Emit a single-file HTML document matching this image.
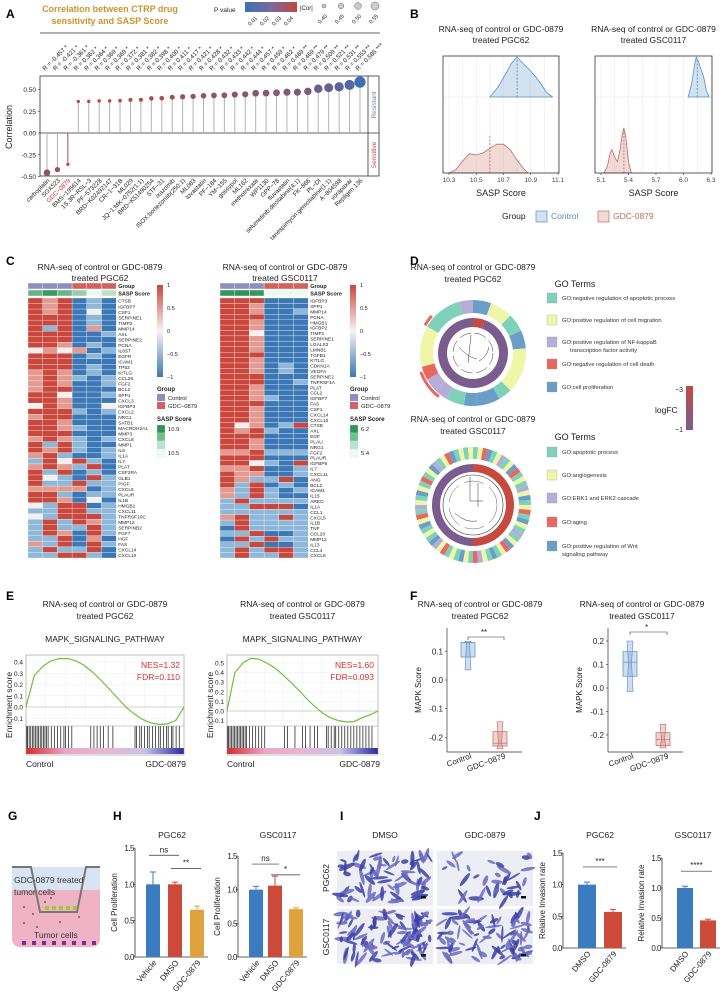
<!DOCTYPE html>
<html><head><meta charset="utf-8"><style>
body{margin:0;background:#fff}
svg{display:block;font-family:"Liberation Sans",sans-serif}
</style></head><body>
<svg id="fig" width="728" height="999" viewBox="0 0 728 999" xmlns="http://www.w3.org/2000/svg">
<g id="A"></g>
<g id="B"></g>
<g id="C"></g>
<g id="D"></g>
<g id="E"></g>
<g id="F"></g>
<g id="G"></g>
<g id="H"></g>
<g id="I"></g>
<g id="J"></g>
</svg>
<script>
// ---------- DATA ----------
const drugs=["carboplatin","SGX523","GDC−0879","BMS−195614","1S,3R−RSL−3","PF−573228","BRD−K02492147","CR−1−31B","ML029","JQ−1:MK−0752(1:1)","BRD−K51490254","STF−31","ixazomib","ISOX:bortezomib(250:1)","ML083","lovastatin","PF−184","YM−155","gossypol","ML162","methotrexate","WP1130","GPP−78","fluvastatin","selumetinib:decitabine(4:1)","FK−866","PL−DI","tanespimycin:gemcitabine(1:1)","A−804598","vorapaxar","Repligen 136"];
const corrR=[-0.457,-0.421,-0.361,0.362,0.364,0.369,0.369,0.372,0.381,0.382,0.398,0.400,0.411,0.417,0.421,0.428,0.432,0.433,0.442,0.444,0.457,0.459,0.462,0.469,0.469,0.479,0.509,0.521,0.531,0.553,0.585];
const corrStars=["*","*","*","*","*","*","*","*","*","*","*","*","*","*","*","*","*","*","*","*","*","*","*","**","**","**","**","**","**","**","***"];
const aTicks=[0.5,0.25,0,-0.25,-0.5];

const bLeftX=[10.3,10.35,10.4,10.45,10.5,10.55,10.6,10.65,10.7,10.75,10.8,10.85,10.88];
const bLeftGdc=[0,0.08,0.3,0.48,0.45,0.5,0.62,0.72,0.72,0.58,0.32,0.1,0];
const bLeftCtrlX=[10.6,10.66,10.72,10.76,10.8,10.84,10.9,10.96,11.02,11.06];
const bLeftCtrl=[0,0.25,0.6,0.85,1,0.85,0.65,0.4,0.1,0];
const bRightCtrlX=[6.05,6.09,6.12,6.14,6.16,6.19,6.22,6.25,6.28];
const bRightCtrl=[0,0.35,0.8,1,0.9,0.7,0.5,0.15,0];
const bRightGdcX=[5.13,5.17,5.2,5.22,5.25,5.28,5.31,5.33,5.35,5.37,5.4,5.43];
const bRightGdc=[0,0.15,0.45,0.52,0.35,0.25,0.55,0.85,1,0.8,0.25,0];

const heatGenesL=["CTSB","IGFBP7","CSF1","SERPINE1","TIMP2","MMP14","AXL","SERPINE2","PCNA","IL6ST","EGFR","ICAM1","TP53","KITLG","CCL26","FGF2","BCL2","SPP1","CXCL3","IGFBP3","CXCL2","NRG1","SATB1","MACROH2A1","MMP3","CXCL8","MMP1","IL6","IL1A","IL7","PLAT","CSF2RA","GLB1","PIGF","CXCL5","PLAUR","IL1B","HMGB1","CXCL11","TNFRSF10C","MMP12","SERPINB2","FGF7","HGF","FAS","CXCL14","CXCL10"];
const heatValsL=["RrRBbB","RrRBbB","RrRBwB","RRRBbB","RRRBbB","RbRBrB","RRRBBb","RRRBBB","RRrBbB","wrwrBb","RRRBbB","RRRBBB","RRRBbB","rRrBbB","rRrbBb","rRrBBb","rRRBBB","RRwBBb","RRrBBB","wRrBBw","RRRbBb","rRRBBB","RRrBBB","RRrbBB","RRRBBB","rRrbBb","RbRbBB","RrRbBb","rRbBBb","bRwRbB","rRrbRB","RbRBbB","RwbBRb","RbbRbb","rrrrBb","RRbBbb","RRrBwB","wbRRBb","bbRRbb","wbRRRb","bRbRrb","bRbbRb","bRrBRb","bbRBrB","rbRBRb","bRbbRB","bbRRbB"];
const heatGenesR=["IGFBP3","SPP1","MMP14","PCNA","HMGB1","IGFBP2","TIMP1","SERPINE1","LGALS3","LMNB1","TGFB1","KITLG","CDKN1A","VEGFA","SERPINE2","TNFRSF1A","PLAT","CCL2","IGFBP7","FAS","CSF1","CXCL14","CXCL10","CTSB","AXL","EGF","PLAU","NRG1","FGF2","PLAUR","IGFBP6","IL7","CXCL11","ANG","BCL2","ICAM1","IL15","AREG","IL1A","CCL1","CXCL5","IL1B","TNF","CCL20","MMP12","IL13","CCL4","CXCL6"];
const heatValsR=["RRRBBB","RRrBBB","RRrBBb","RRRBBB","RRrBBB","RRrBBB","RRwBBB","RRrBBB","RRrBBB","RRrBBB","RRRBBB","RRrBBB","RRrBbB","RRrBbB","RRRBBB","RRRBBb","RRrBBB","RRrBBB","RRrbBB","RRRBBB","RRrBBB","RRrBBB","RRrBBB","RwrBbR","RrRbBB","RRRBBB","RRrBBB","RRrBBB","rrRbbb","RRRBBB","RRwbBR","rrRBBb","RrrBBb","RrbbRB","RbRBbB","rbRbBb","rbRbBB","bRbbbb","bbRRRB","bbbbbb","rRbbRb","bRbbbb","BRbbbb","bbRBBb","BRbRbb","bbRBBb","bRbRRb","bRbbRb"];
const sasL=[10.78,10.88,10.77,10.68,10.5,10.6];
const sasR=[6.18,6.2,6.17,5.38,5.4,5.36];

const goUpperSeg=["B","Y","G","B","Y","G","B","B","G","P","P","R","Y","G","G","P"];
const goUpperSpan=[20,25,20,20,50,15,25,15,20,15,15,15,45,30,15,15];
const goLowerSeg="GYRBGYPGYBRGYGPYBGYRGBYGPGYBRYGBGYPRGYBGYGRYPBGYGBYRGPYGBYGRGYBPGYRBGYGY";

const esL=[0,0.28,0.36,0.41,0.43,0.43,0.41,0.37,0.31,0.24,0.16,0.08,0.0,-0.06,-0.11,-0.14,-0.155,-0.15,-0.12,0];
const esR=[0,0.4,0.5,0.55,0.54,0.5,0.45,0.38,0.3,0.22,0.13,0.05,-0.02,-0.07,-0.1,-0.115,-0.11,-0.07,-0.04,0];
const hitsL=[0.005,0.01,0.02,0.03,0.04,0.05,0.06,0.07,0.08,0.09,0.1,0.11,0.12,0.13,0.14,0.16,0.18,0.2,0.22,0.24,0.25,0.27,0.29,0.41,0.43,0.45,0.47,0.49,0.52,0.55,0.69,0.7,0.72,0.73,0.75,0.77,0.78,0.8,0.82,0.84,0.85,0.87,0.89,0.9,0.92,0.93,0.95,0.97];
const hitsR=[0.005,0.01,0.02,0.03,0.04,0.05,0.06,0.07,0.08,0.09,0.1,0.11,0.12,0.13,0.15,0.17,0.19,0.21,0.23,0.25,0.38,0.4,0.45,0.5,0.52,0.55,0.58,0.6,0.66,0.67,0.69,0.71,0.72,0.74,0.76,0.78,0.8,0.82,0.84,0.86,0.88,0.9,0.92,0.94,0.96];

const fBoxL={ctrl:[0.035,0.08,0.13,0.13,0.135],gdc:[-0.24,-0.23,-0.22,-0.18,-0.145]};
const fBoxR={ctrl:[-0.015,0.05,0.11,0.155,0.2],gdc:[-0.255,-0.245,-0.22,-0.19,-0.155]};

const hCats=["Vehicle","DMSO","GDC-0879"];
const hPGC=[1.0,1.0,0.65], hPGCerr=[0.17,0.03,0.05];
const hGSC=[1.0,1.06,0.71], hGSCerr=[0.05,0.14,0.02];
const jCats=["DMSO","GDC-0879"];
const jPGC=[1.0,0.57], jPGCerr=[0.04,0.04];
const jGSC=[1.0,0.46], jGSCerr=[0.03,0.02];

// ---------- HELPERS ----------
const NS="http://www.w3.org/2000/svg";
function el(parent,tag,attrs,text){const e=document.createElementNS(NS,tag);for(const k in attrs)e.setAttribute(k,attrs[k]);if(text!==undefined)e.textContent=text;parent.appendChild(e);return e;}
function txt(p,x,y,s,size,extra){const e=el(p,"text",Object.assign({x:x,y:y,"font-size":size,fill:"#222"},extra||{}),s);return e;}
function lerpC(a,b,t){const pa=[parseInt(a.slice(1,3),16),parseInt(a.slice(3,5),16),parseInt(a.slice(5,7),16)],pb=[parseInt(b.slice(1,3),16),parseInt(b.slice(3,5),16),parseInt(b.slice(5,7),16)];return "rgb("+pa.map((v,i)=>Math.round(v+(pb[i]-v)*t)).join(",")+")";}
const defs=el(document.getElementById("fig"),"defs",{});
function grad(id,stops,vertical){const g=el(defs,"linearGradient",{id:id,x1:0,y1:0,x2:vertical?0:1,y2:vertical?1:0});stops.forEach((c,i)=>el(g,"stop",{offset:(i/(stops.length-1)),"stop-color":c}));}
grad("pgrad",["#3d6fb3","#7a6a9e","#c0463e"],false);
grad("hgrad",["#c9473c","#f7f3f2","#3b78b5"],true);
grad("lfc",["#c64a3f","#7a5c8f"],true);
grad("gseabar",["#d42a2a","#e9a7c8","#e9b5d6","#c8c3e6","#2a2aa0"],false);
function label(p,s,x,y){const t=txt(p,x,y,s,12,{"font-weight":"bold",fill:"#000"});}

// ---------- PANEL A ----------
(function(){
const g=document.getElementById("A");
label(g,"A",6,18);
const t1=txt(g,110,12,"Correlation between CTRP drug",9,{"font-weight":"bold",fill:"#c9952e","text-anchor":"middle"});

txt(g,110,24,"sensitivity and SASP Score",9,{"font-weight":"bold",fill:"#c9952e","text-anchor":"middle"});
txt(g,214,12,"P value",6.5);
const pr=el(g,"rect",{x:245,y:2,width:52,height:10,fill:"url(#pgrad)"});

["0.01","0.02","0.03","0.04"].forEach((s,i)=>txt(g,0,0,s,5.5,{transform:`translate(${250+i*12},26) rotate(-45)`}));
txt(g,300,10,"|Cor|",6);
[2,2.8,3.4,4].forEach((r,i)=>{el(g,"circle",{cx:324+i*17,cy:6,r:r,fill:"#ccc",stroke:"#666","stroke-width":0.5});txt(g,0,0,["0.40","0.45","0.50","0.55"][i],5.5,{transform:`translate(${320+i*17},24) rotate(-45)`});});
el(g,"line",{x1:40,y1:33,x2:380,y2:33,stroke:"#999","stroke-width":1.5});
const X0=40,X1=379,Y0=76,Y1=176;
const xs=i=>47+i*(360-47)/(corrR.length-1);
const ys=v=>133-v*87;
el(g,"rect",{x:X0,y:Y0,width:X1-X0,height:Y1-Y0,fill:"none",stroke:"#333","stroke-width":0.8});
el(g,"line",{x1:368,y1:Y0,x2:368,y2:Y1,stroke:"#333","stroke-width":0.8});
el(g,"line",{x1:X0,y1:ys(0),x2:X1,y2:ys(0),stroke:"#333","stroke-width":0.8});
const rs=txt(g,0,0,"Resistant",6.5,{fill:"#7b82b8","text-anchor":"middle",transform:"translate(376,105) rotate(-90)"});

txt(g,0,0,"Sensitive",6.5,{fill:"#c0504d","text-anchor":"middle",transform:"translate(376,155) rotate(-90)"});
aTicks.forEach(v=>{el(g,"line",{x1:X0-2,y1:ys(v),x2:X0,y2:ys(v),stroke:"#333","stroke-width":0.6});txt(g,36,ys(v)+2.5,v.toFixed(2),6.5,{"text-anchor":"end"});});
const yl=txt(g,0,0,"Correlation",9,{"text-anchor":"middle",transform:"translate(12,127) rotate(-90)"});

corrR.forEach((r,i)=>{
 const a=Math.abs(r);
 const t=Math.min(1,Math.max(0,(a-0.36)/0.225));
 const col=lerpC("#c0463e","#3d6fb3",t);
 const rad=1.6+t*4;
 const red=i===2;
 el(g,"line",{x1:xs(i),y1:ys(0),x2:xs(i),y2:ys(r),stroke:red?"#a0524d":"#b3b3b3","stroke-width":1});
 const c=el(g,"circle",{cx:xs(i),cy:ys(r),r:rad,fill:col});
 
 
 const lab=txt(g,0,0,"R = "+r.toFixed(3)+" "+corrStars[i],6.2,{transform:`translate(${xs(i)-2},71) rotate(-45)`});
 
 
 const dl=txt(g,0,0,drugs[i],6.2,{"text-anchor":"end",fill:red?"#d0312d":"#222",transform:`translate(${xs(i)+3},181) rotate(-45)`});
 
 
});
})();

// ---------- PANEL B ----------
(function(){
const g=document.getElementById("B");
label(g,"B",410,18);
function panel(x0,x1,xmin,xmax,ticks,title2,ctrlX,ctrl,gdcX,gdc,hC,hG,medC,medG){
 const sx=v=>x0+6+(v-xmin)/(xmax-xmin)*(x1-x0-7);
 const Y0=56,Y1=173,mid=97;
 txt(g,(x0+x1)/2,32,"RNA-seq of control or GDC-0879",8.5,{"text-anchor":"middle"});
 txt(g,(x0+x1)/2,43,title2,8.5,{"text-anchor":"middle"});
 for(let v=xmin;v<=xmax+1e-6;v+=(ticks[1]-ticks[0])/2) el(g,"line",{x1:sx(v),y1:Y0,x2:sx(v),y2:Y1,stroke:"#ececec","stroke-width":0.6});
 el(g,"line",{x1:x0,y1:mid,x2:x1,y2:mid,stroke:"#e4e4e4","stroke-width":0.6});
 function ridge(xa,ya,base,h,fill,stroke,med){
  let d=`M${sx(xa[0])},${base}`;xa.forEach((v,i)=>d+=` L${sx(v).toFixed(1)},${(base-ya[i]*h).toFixed(1)}`);d+=` L${sx(xa[xa.length-1])},${base}Z`;
  const p=el(g,"path",{d:d,fill:fill,stroke:stroke,"stroke-width":0.8,"stroke-linejoin":"round"});
  
  
  el(g,"line",{x1:sx(med),y1:base,x2:sx(med),y2:base-h*0.95,stroke:stroke,"stroke-width":0.8,"stroke-dasharray":"2,1.5"});
 }
 ridge(ctrlX,ctrl,mid,hC,"rgba(110,160,210,0.3)","#5d8cc0",medC);
 ridge(gdcX,gdc,Y1,hG,"rgba(210,130,120,0.3)","#c06a62",medG);
 el(g,"rect",{x:x0,y:Y0,width:x1-x0,height:Y1-Y0,fill:"none",stroke:"#333","stroke-width":0.8});
 ticks.forEach(v=>{el(g,"line",{x1:sx(v),y1:Y1,x2:sx(v),y2:Y1+2,stroke:"#333","stroke-width":0.6});txt(g,sx(v),Y1+9,v.toFixed(1),6.5,{"text-anchor":"middle",fill:"#444"});});
 const xl=txt(g,(x0+x1)/2,196,"SASP Score",9,{"text-anchor":"middle"});
 
}
panel(443,559,10.3,11.1,[10.3,10.5,10.7,10.9,11.1],"treated PGC62",bLeftCtrlX,bLeftCtrl,bLeftX,bLeftGdc,40,40,10.8,10.6);
panel(595,712,5.1,6.3,[5.1,5.4,5.7,6.0,6.3],"treated GSC0117",bRightCtrlX,bRightCtrl,bRightGdcX,bRightGdc,40,45,6.15,5.35);
txt(g,502,219,"Group",8.5);
const l1=el(g,"rect",{x:536,y:211,width:11,height:11,fill:"rgba(110,160,210,0.3)",stroke:"#5d8cc0","stroke-width":0.7});

txt(g,551,219,"Control",8.5,{fill:"#5d8cc0"});
const l2=el(g,"rect",{x:598,y:211,width:11,height:11,fill:"rgba(210,130,120,0.3)",stroke:"#c06a62","stroke-width":0.7});

txt(g,613,219,"GDC-0879",8.5,{fill:"#c06a62"});
})();

// ---------- PANEL C ----------
(function(){
const g=document.getElementById("C");
label(g,"C",6,265);
const cmap={R:"#c9473c",r:"#e49a8f",w:"#f5f0ef",b:"#8db8d9",B:"#3b78b5"};
function hm(x0,cx,title2,genes,vals,sas,smin,smax,legX,hi,lo){
 const cw=14.7,top=298,rh=260/genes.length;
 txt(g,cx,270,"RNA-seq of control or GDC-0879",8.5,{"text-anchor":"middle"});
 txt(g,cx,281,title2,8.5,{"text-anchor":"middle"});
 for(let j=0;j<6;j++){
  el(g,"rect",{x:x0+j*cw,y:283,width:cw,height:6,fill:j<3?"#8d8fbf":"#d3625c",stroke:"#fff","stroke-width":0.4});
  const t=(sas[j]-smin)/(smax-smin);
  el(g,"rect",{x:x0+j*cw,y:290,width:cw,height:6,fill:lerpC("#eef9f4","#2f9456",Math.max(0,Math.min(1,t))),stroke:"#fff","stroke-width":0.4});
 }
 txt(g,x0+6*cw+2,288,"Group",5.5,{"font-weight":"bold"});
 txt(g,x0+6*cw+2,295.5,"SASP Score",5.5,{"font-weight":"bold"});
 vals.forEach((row,i)=>{
  for(let j=0;j<6;j++){
   const c=el(g,"rect",{x:x0+j*cw,y:top+i*rh,width:cw,height:rh,fill:cmap[row[j]],stroke:"#fff","stroke-width":0.3});
   
   
  }
  txt(g,x0+6*cw+2,top+i*rh+rh-0.8,genes[i],4.8);
 });
 const cb=el(g,"rect",{x:legX,y:285,width:6,height:92,fill:"url(#hgrad)"});
 
 ["1","0.5","0","−0.5","−1"].forEach((s,i)=>txt(g,legX+10,287+i*23,s,5.5));
 txt(g,legX,391,"Group",6,{"font-weight":"bold"});
 el(g,"rect",{x:legX,y:394,width:8,height:7,fill:"#8d8fbf"});txt(g,legX+11,400,"Control",5.8);
 el(g,"rect",{x:legX,y:402,width:8,height:7,fill:"#d3625c"});txt(g,legX+11,408,"GDC−0879",5.8);
 txt(g,legX,421,"SASP Score",6,{"font-weight":"bold"});
 ["#2f9456","#6cc08b","#b7e3cf","#eef9f4"].forEach((c,i)=>el(g,"rect",{x:legX,y:425+i*8,width:8,height:8,fill:c,stroke:"#ddd","stroke-width":0.3}));
 txt(g,legX+11,431,hi,5.8);txt(g,legX+11,455,lo,5.8);
}
hm(28,100,"treated PGC62",heatGenesL,heatValsL,sasL,10.5,10.9,157,"10.9","10.5");
hm(220,285,"treated GSC0117",heatGenesR,heatValsR,sasR,5.4,6.2,350,"6.2","5.4");
})();

// ---------- PANEL D ----------
(function(){
const g=document.getElementById("D");
label(g,"D",410,265);
const cc={G:"#7fd1b9",Y:"#eef6a8",P:"#b5add6",R:"#e8675e",B:"#6a9ec9"};
function arc(cx,cy,r0,r1,a0,a1,fill){
 const p=(r,a)=>[cx+r*Math.sin(a*Math.PI/180),cy-r*Math.cos(a*Math.PI/180)];
 const L=(a1-a0)>180?1:0;
 const A=p(r1,a0),Bp=p(r1,a1),C=p(r0,a1),D=p(r0,a0);
 return el(g,"path",{d:`M${A[0]},${A[1]} A${r1},${r1} 0 ${L} 1 ${Bp[0]},${Bp[1]} L${C[0]},${C[1]} A${r0},${r0} 0 ${L} 0 ${D[0]},${D[1]}Z`,fill:fill});
}
txt(g,473,270,"RNA-seq of control or GDC-0879",8.5,{"text-anchor":"middle"});
txt(g,473,282,"treated PGC62",8.5,{"text-anchor":"middle"});
const cx1=473,cy1=353;
let a=0;
goUpperSeg.forEach((s,i)=>{const p=arc(cx1,cy1,40,53,a,a+goUpperSpan[i],cc[s]);a+=goUpperSpan[i];});
arc(cx1,cy1,54,57,218,250,"#e8675e");arc(cx1,cy1,54,57,300,312,"#e8675e");
arc(cx1,cy1,26,35,0,20,"#c64a3f");arc(cx1,cy1,26,35,20,360,"#7a5c8f");
el(g,"circle",{cx:cx1,cy:cy1,r:20,fill:"none",stroke:"#333","stroke-width":0.5,"stroke-dasharray":"12,4"});
el(g,"path",{d:`M${cx1-2},${cy1-18} L${cx1-5},${cy1+10} M${cx1-14},${cy1-6} q8,10 18,12 M${cx1+6},${cy1+8} q8,-4 10,-14`,fill:"none",stroke:"#333","stroke-width":0.5});
txt(g,575,287,"GO Terms",9,{"text-anchor":"middle"});
const up=[["G","GO:negative regulation of apoptotic process"],["Y","GO:positive regulation of cell migration"],["P","GO:positive regulation of NF-kappaB"],["R","GO:negative regulation of cell death"],["B","GO:cell proliferation"]];
const upY=[298,320,342,364,387];
up.forEach((u,i)=>{const r=el(g,"rect",{x:547,y:upY[i]-5,width:10,height:10,fill:cc[u[0]],stroke:"#999","stroke-width":0.3});txt(g,562,upY[i]+2,u[1],5.8,{fill:"#333"});});
txt(g,570,352,"transcription factor activity",5.8,{fill:"#333"});
const lf=el(g,"rect",{x:686,y:386,width:7,height:44,fill:"url(#lfc)"});

txt(g,683,392,"−3",7,{"text-anchor":"end"});txt(g,683,432,"−1",7,{"text-anchor":"end"});
txt(g,655,413,"logFC",8.5);
txt(g,473,422,"RNA-seq of control or GDC-0879",8.5,{"text-anchor":"middle"});
txt(g,473,434,"treated GSC0117",8.5,{"text-anchor":"middle"});
const cx2=473,cy2=505;
const n=goLowerSeg.length,step=360/n;
for(let i=0;i<n;i++){const p=arc(cx2,cy2,46,58,i*step,(i+1)*step,cc[goLowerSeg[i]]);}
arc(cx2,cy2,33,41,0,180,"#c64a3f");arc(cx2,cy2,33,41,180,360,"#7a5c8f");
el(g,"circle",{cx:cx2,cy:cy2,r:30,fill:"none",stroke:"#333","stroke-width":0.6});
el(g,"circle",{cx:cx2,cy:cy2,r:24,fill:"none",stroke:"#333","stroke-width":0.4,"stroke-dasharray":"20,6"});
el(g,"path",{d:`M${cx2-3},${cy2-28} L${cx2-3},${cy2-4} L${cx2+10},${cy2-4} M${cx2-18},${cy2+8} q10,10 22,8 M${cx2+5},${cy2-22} L${cx2+5},${cy2+2}`,fill:"none",stroke:"#333","stroke-width":0.5});
txt(g,575,440,"GO Terms",9,{"text-anchor":"middle"});
const lo=[["G","GO:apoptotic process"],["Y","GO:angiogenesis"],["P","GO:ERK1 and ERK2 cascade"],["R","GO:aging"],["B","GO:positive regulation of Wnt"]];
const loY=[452,475,498,522,546];
lo.forEach((u,i)=>{const r=el(g,"rect",{x:547,y:loY[i]-5,width:10,height:10,fill:cc[u[0]],stroke:"#999","stroke-width":0.3});txt(g,562,loY[i]+2,u[1],5.8,{fill:"#333"});});
txt(g,562,556,"signaling pathway",5.8,{fill:"#333"});
})();

// ---------- PANEL E ----------
(function(){
const g=document.getElementById("E");
label(g,"E",6,600);
function gsea(x0,x1,title2,es,hits,y0v,perTenth,ticks,nes,fdr){
 const cx=(x0+x1)/2;
 txt(g,cx,607,"RNA-seq of control or GDC-0879",8.5,{"text-anchor":"middle"});
 txt(g,cx,619,title2,8.5,{"text-anchor":"middle"});
 txt(g,cx,642,"MAPK_SIGNALING_PATHWAY",8.5,{"text-anchor":"middle"});
 const T=655,M=726,B2=750,B3=755;
 const ys=v=>y0v-v*perTenth*10;
 for(let k=0;k<=8;k++)el(g,"line",{x1:x0+k*(x1-x0)/8,y1:T,x2:x0+k*(x1-x0)/8,y2:M,stroke:"#eee","stroke-width":0.5});
 ticks.forEach(v=>{el(g,"line",{x1:x0,y1:ys(v),x2:x1,y2:ys(v),stroke:"#eee","stroke-width":0.5});txt(g,x0-3,ys(v)+2.5,v.toFixed(1),6.5,{"text-anchor":"end"});});
 el(g,"line",{x1:x0,y1:ys(0),x2:x1,y2:ys(0),stroke:"#aaa","stroke-width":0.6});
 let d="";es.forEach((v,i)=>{const px=x0+(i/(es.length-1))*(x1-x0);d+=(i?" L":"M")+px.toFixed(1)+","+ys(v).toFixed(1);});
 const line=el(g,"path",{d:d,fill:"none",stroke:"#6cc23a","stroke-width":1.2,"stroke-linejoin":"round"});
 
 hits.forEach(h=>{const l=el(g,"line",{x1:x0+h*(x1-x0),y1:M,x2:x0+h*(x1-x0),y2:B2-1,stroke:"#111","stroke-width":0.7});});
 el(g,"rect",{x:x0,y:B2-2,width:x1-x0,height:6,fill:"url(#gseabar)"});
 el(g,"rect",{x:x0,y:T,width:x1-x0,height:B3-T,fill:"none",stroke:"#999","stroke-width":0.6});
 el(g,"line",{x1:x0,y1:M,x2:x1,y2:M,stroke:"#999","stroke-width":0.6});
 txt(g,x1-4,668,"NES="+nes,8.5,{"text-anchor":"end",fill:"#d0312d"});
 txt(g,x1-4,680,"FDR="+fdr,8.5,{"text-anchor":"end",fill:"#d0312d"});
 txt(g,0,0,"Enrichment score",8.5,{"text-anchor":"middle",transform:`translate(${x0-14},705) rotate(-90)`});
 txt(g,x0,767,"Control",8.5);txt(g,x1+2,767,"GDC-0879",8.5,{"text-anchor":"end"});
}
gsea(26,184,"treated PGC62",esL,hitsL,707,11.25,[0.4,0.3,0.2,0.1,0.0,-0.1],"1.32","0.110");
gsea(227,378,"treated GSC0117",esR,hitsR,711,9.6,[0.5,0.4,0.3,0.2,0.1,0.0,-0.1],"1.60","0.093");
})();

// ---------- PANEL F ----------
(function(){
const g=document.getElementById("F");
label(g,"F",410,600);
function bp(ax,cxC,cxG,title2,cx,ticks,y0,per,data,stars,bry){
 const ys=v=>y0-v*per*10;
 txt(g,cx,607,"RNA-seq of control or GDC-0879",8.5,{"text-anchor":"middle"});
 txt(g,cx,619,title2,8.5,{"text-anchor":"middle"});
 el(g,"line",{x1:ax,y1:628,x2:ax,y2:752,stroke:"#333","stroke-width":0.7});
 el(g,"line",{x1:ax,y1:752,x2:ax+75,y2:752,stroke:"#333","stroke-width":0.7});
 ticks.forEach(v=>{el(g,"line",{x1:ax-2,y1:ys(v),x2:ax,y2:ys(v),stroke:"#333","stroke-width":0.6});txt(g,ax-4,ys(v)+3,v.toFixed(1),8,{"text-anchor":"end"});});
 txt(g,0,0,"MAPK Score",8,{"text-anchor":"middle",transform:`translate(${ax-26},690) rotate(-90)`});
 [[cxC,data.ctrl,"#5d8cc0","rgba(110,160,210,0.35)"],[cxG,data.gdc,"#c06a62","rgba(210,130,120,0.35)"]].forEach(([x,q,s,f])=>{
  const r=el(g,"rect",{x:x-7,y:ys(q[3]),width:14,height:ys(q[1])-ys(q[3]),fill:f,stroke:s,"stroke-width":0.7});
  
  el(g,"path",{d:`M${x-3},${ys(q[4])} L${x+3},${ys(q[4])} L${x+1.5},${ys(q[2])} L${x+3},${ys(q[0])} L${x-3},${ys(q[0])} L${x-1.5},${ys(q[2])}Z`,fill:f,stroke:s,"stroke-width":0.6});
  el(g,"line",{x1:x-7,y1:ys(q[2]),x2:x+7,y2:ys(q[2]),stroke:s,"stroke-width":0.7});
 });
 el(g,"path",{d:`M${cxC},${bry+3} L${cxC},${bry} L${cxG+4},${bry} L${cxG+4},${bry+3}`,fill:"none",stroke:"#333","stroke-width":0.6});
 txt(g,(cxC+cxG)/2,bry-2,stars,8,{"text-anchor":"middle"});
 txt(g,0,0,"Control",8,{"text-anchor":"end",transform:`translate(${cxC+4},758) rotate(-20)`});
 txt(g,0,0,"GDC−0879",8,{"text-anchor":"end",transform:`translate(${cxG+6},758) rotate(-20)`});
}
bp(447,468,500,"treated PGC62",480,[0.1,0.0,-0.1,-0.2],680,28.7,fBoxL,"**",637);
bp(608,630,663,"treated GSC0117",642,[0.2,0.1,0.0,-0.1,-0.2],688,23.5,fBoxR,"*",632);
})();

// ---------- PANEL G ----------
(function(){
const g=document.getElementById("G");
label(g,"G",8,820);
const pk=el(g,"path",{d:"M12,867 L100,867 L100,938 Q100,947 91,947 L21,947 Q12,947 12,938Z",fill:"#efb3c5"});

el(g,"rect",{x:12,y:867,width:88,height:23,fill:"#d8e3f3"});
el(g,"path",{d:"M12,867 L31,867 L40,912 L77,912 L86,867 L100,867",fill:"none",stroke:"#777","stroke-width":2});
for(let i=0;i<5;i++)el(g,"rect",{x:45+i*7,y:906,width:4,height:4,fill:"#9acd32"});
for(let i=0;i<8;i++)el(g,"rect",{x:22+i*10,y:941,width:4,height:4,fill:"#7a2a9a"});
[[24,907],[51,898],[45,902],[33,914],[24,923],[60,922],[79,917],[37,927]].forEach(p=>el(g,"circle",{cx:p[0],cy:p[1],r:0.9,fill:"#444"}));
txt(g,14,883,"GDC-0879 treated",8.5,{fill:"#333"});
txt(g,14,895,"tumor cells",8.5,{fill:"#333"});
txt(g,34,938,"Tumor cells",8.5,{fill:"#333"});
})();

// ---------- BAR CHARTS H, J ----------
function barChart(gid,ax,title,cx,cats,vals,errs,colors,barX,bw,y0,y15,ylab,brackets){
 const g=document.getElementById(gid);
 const ys=v=>y0-(v/1.5)*(y0-y15);
 txt(g,cx,838,title,8.5,{"text-anchor":"middle"});
 el(g,"line",{x1:ax,y1:y15,x2:ax,y2:y0,stroke:"#333","stroke-width":0.8});
 el(g,"line",{x1:ax,y1:y0,x2:barX[barX.length-1]+bw+4,y2:y0,stroke:"#333","stroke-width":0.8});
 [0,0.5,1.0,1.5].forEach(v=>{el(g,"line",{x1:ax-2,y1:ys(v),x2:ax,y2:ys(v),stroke:"#333","stroke-width":0.6});txt(g,ax-1,ys(v)+3,v.toFixed(1),8,{"text-anchor":"end","letter-spacing":"-0.5"});});
 txt(g,0,0,ylab,8,{"text-anchor":"middle",transform:`translate(${ax-18},${(y0+y15)/2}) rotate(-90)`});
 vals.forEach((v,i)=>{
  const x=barX[i];
  const b=el(g,"rect",{x:x,y:ys(v),width:bw,height:y0-ys(v),fill:colors[i]});
  
  
  el(g,"line",{x1:x+bw/2,y1:ys(v),x2:x+bw/2,y2:ys(v+errs[i]),stroke:colors[i],"stroke-width":1});
  el(g,"line",{x1:x+bw/2-3,y1:ys(v+errs[i]),x2:x+bw/2+3,y2:ys(v+errs[i]),stroke:colors[i],"stroke-width":1});
  txt(g,0,0,cats[i],8,{"text-anchor":"end",transform:`translate(${x+bw/2+4},${y0+6}) rotate(-50)`});
 });
 brackets.forEach(([i,j,v,s])=>{el(g,"line",{x1:barX[i]+bw/2-4,y1:ys(v),x2:barX[j]+bw/2+4,y2:ys(v),stroke:"#333","stroke-width":0.7});txt(g,(barX[i]+barX[j])/2+bw/2,ys(v)-3,s,8,{"text-anchor":"middle"});});
}
label(document.getElementById("H"),"H",113,820);
barChart("H",135,"PGC62",172,hCats,hPGC,hPGCerr,["#3b7bbf","#cc4a3a","#e0a23a"],[146,168,190],14,957,848,"Cell Proliferation",[[0,1,1.4,"ns"],[1,2,1.22,"**"]]);
barChart("H",238,"GSC0117",278,hCats,hGSC,hGSCerr,["#3b7bbf","#cc4a3a","#e0a23a"],[249,268,289],14,957,856,"Cell Proliferation",[[0,1,1.38,"ns"],[1,2,1.22,"*"]]);
label(document.getElementById("J"),"J",534,820);
barChart("J",563,"PGC62",600,jCats,jPGC,jPGCerr,["#3b7bbf","#cc4a3a"],[578,604],18,948,853,"Relative Invasion rate",[[0,1,1.28,"***"]]);
barChart("J",662,"GSC0117",693,jCats,jGSC,jGSCerr,["#3b7bbf","#cc4a3a"],[677,700],16,948,858,"Relative Invasion rate",[[0,1,1.28,"****"]]);

// ---------- PANEL I (micrographs) ----------
(function(){
const g=document.getElementById("I");
label(g,"I",340,820);
txt(g,385,838,"DMSO",8.5,{"text-anchor":"middle"});
txt(g,485,838,"GDC-0879",8.5,{"text-anchor":"middle"});
txt(g,0,0,"PGC62",8.5,{"text-anchor":"middle",transform:"translate(329,878) rotate(-90)"});
txt(g,0,0,"GSC0117",8.5,{"text-anchor":"middle",transform:"translate(329,937) rotate(-90)"});
let seed=7;const rnd=()=>{seed=(seed*16807)%2147483647;return seed/2147483647;};
const imgs=[[337,851,18],[437,851,9],[337,909,26],[437,909,22]];
imgs.forEach(([x,y,n])=>{
 const r=el(g,"rect",{x:x,y:y,width:96,height:55,fill:"#eceef3"});
 
 for(let k=0;k<n*4;k++){const px=x+3+rnd()*90,py=y+3+rnd()*49,L=3+rnd()*6,a=rnd()*180;
  el(g,"ellipse",{cx:px,cy:py,rx:L,ry:1+rnd()*1.3,fill:rnd()<0.5?"#3b3fa8":"#6b6ac0",opacity:0.85,transform:`rotate(${a} ${px} ${py})`});}
 el(g,"rect",{x:x+84,y:y+45,width:5,height:2.5,fill:"#111"});
});
})();
</script>
</body></html>
